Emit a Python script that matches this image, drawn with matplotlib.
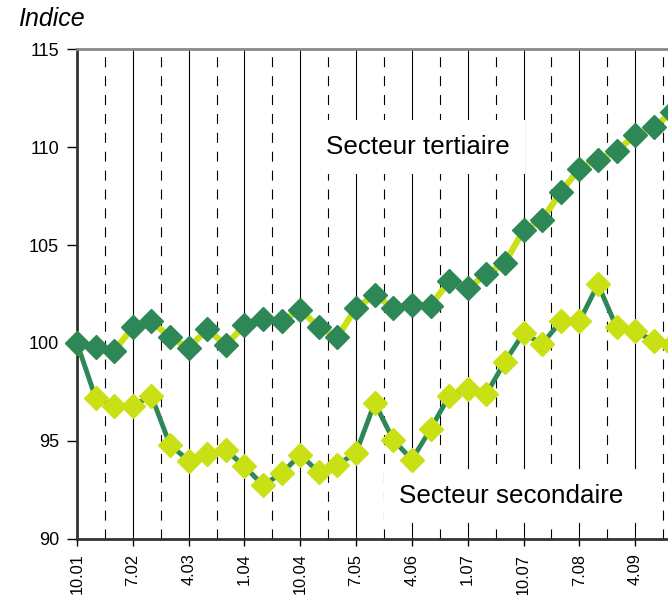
import matplotlib
matplotlib.use("Agg")
import matplotlib.pyplot as plt
import numpy as np

plt.rcParams['font.family'] = ['Liberation Sans', 'DejaVu Sans']

# quarterly points, starting 10.01
tick_labels = ["10.01", "7.02", "4.03", "1.04", "10.04", "7.05",
               "4.06", "1.07", "10.07", "7.08", "4.09"]
tertiaire = [100.0, 99.8, 99.6, 100.8, 101.1, 100.3, 99.75, 100.7, 99.9, 100.9,
             101.2, 101.1, 101.7, 100.8, 100.3, 101.8, 102.45, 101.8, 101.95, 101.9,
             103.15, 102.8, 103.5, 104.1, 105.75, 106.3, 107.7, 108.9, 109.35, 109.8,
             110.6, 111.0, 111.8]
secondaire = [100.0, 97.2, 96.8, 96.8, 97.3, 94.8, 94.0, 94.35, 94.55, 93.7,
              92.75, 93.35, 94.3, 93.4, 93.8, 94.4, 96.95, 95.05, 94.05, 95.6,
              97.3, 97.65, 97.4, 99.05, 100.5, 99.95, 101.1, 101.1, 103.0, 100.8,
              100.6, 100.1, 99.9]

dark = "#2e8757"
light = "#c9e014"

W, H = 668, 595
fig = plt.figure(figsize=(W / 100, H / 100), dpi=100)
# axes runs off the right edge like the original crop
ax = fig.add_axes([77 / W, (H - 539) / H, 614 / W, 490 / H])

x = np.arange(len(tertiaire))
major = np.arange(0, 3 * len(tick_labels), 3)

for xm in major:
    ax.axvline(xm, color="black", lw=0.8, zorder=1)
for xm in major + 1.5:
    ax.axvline(xm, color="black", lw=0.8, ls=(0, (9, 8)), zorder=1)

ax.plot(x, secondaire, color=dark, lw=3.5, marker="D", ms=12.5,
        mfc=light, mec=light, zorder=3, clip_on=False)
ax.plot(x, tertiaire, color=light, lw=4.5, marker="D", ms=12.5,
        mfc=dark, mec=dark, zorder=4, clip_on=False)

ax.set_xlim(0, 33)
ax.set_ylim(90, 115)
ax.set_yticks([90, 95, 100, 105, 110, 115])
ax.set_xticks(major)
ax.set_xticklabels(tick_labels, rotation=90)
ax.tick_params(axis="y", length=7, width=1, labelsize=13, direction="out", pad=6)
ax.tick_params(axis="x", length=5, width=1, labelsize=11.8, direction="out", pad=5.5)

for side in ["left", "bottom"]:
    ax.spines[side].set_color("#333333")
    ax.spines[side].set_linewidth(2)
ax.spines["top"].set_color("#888888")
ax.spines["top"].set_linewidth(2)
ax.spines["right"].set_visible(False)

box = dict(facecolor="white", edgecolor="none", pad=11)
ax.text(13.4, 110.0, "Secteur tertiaire", fontsize=18.7, ha="left", va="center",
        bbox=box, zorder=2)
ax.text(17.3, 92.2, "Secteur secondaire", fontsize=18.7, ha="left", va="center",
        bbox=box, zorder=2)

fig.text(18 / W, 1 - 19 / H, "Indice", fontsize=18, style="italic",
         ha="left", va="center")

fig.savefig("out.png", dpi=100)
